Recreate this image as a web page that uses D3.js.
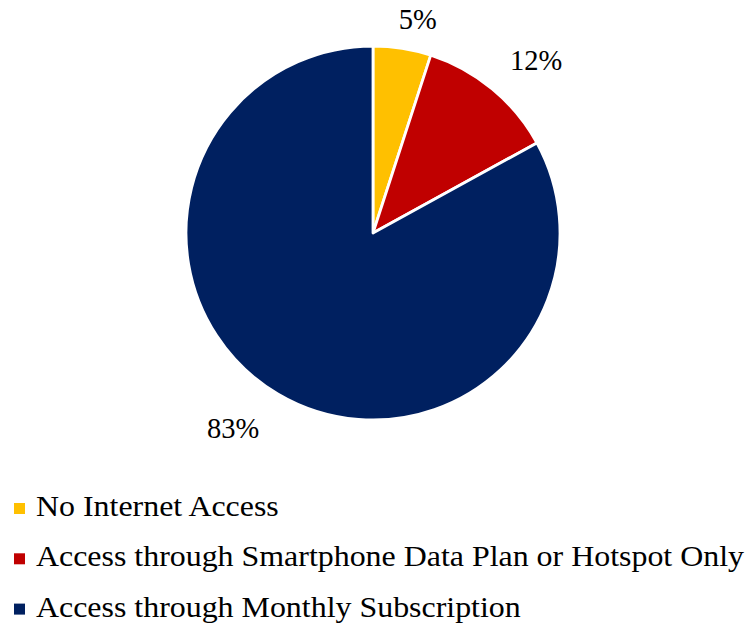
<!DOCTYPE html>
<html>
<head>
<meta charset="utf-8">
<script src="https://cdn.jsdelivr.net/npm/d3@7"></script>
<style>
    body { margin: 0; background: #fff; }
    text { font-family: "Liberation Serif", "Times New Roman", serif; fill: #000; }
</style>
</head>
<body>
<svg id="chart" width="746" height="628" viewBox="0 0 746 628"></svg>
<script>
// data
const categories = ["No Internet Access", "Access through Smartphone Data Plan or Hotspot Only", "Access through Monthly Subscription"];
const shares = [5, 12, 83];
const colors = ["#FFC000", "#C00000", "#002060"];

const svg = d3.select("#chart");
const cx = 373, cy = 233, radius = 187;

const pie = d3.pie().sort(null).value(d => d);
const arcs = pie(shares);

const arc = d3.arc().innerRadius(0).outerRadius(radius);
const label_arc = d3.arc().innerRadius(radius + 28).outerRadius(radius + 28);

// pie container
const chart_container = svg.append("g")
    .attr("transform", "translate(" + cx + "," + cy + ")");

chart_container.selectAll("path")
    .data(arcs)
    .enter().append("path")
    .attr("d", arc)
    .attr("fill", (d, i) => colors[i])
    .attr("stroke", "#fff")
    .attr("stroke-width", 2.8)
    .attr("stroke-linejoin", "round");

// labels sit a bit off the mid angle, like the excel "best fit"
const nudge = [[11, -1.5], [26, -7], [-30.5, 10]];
chart_container.selectAll("text.pct")
    .data(arcs)
    .enter().append("text")
    .attr("class", "pct")
    .attr("x", (d, i) => label_arc.centroid(d)[0] + nudge[i][0])
    .attr("y", (d, i) => label_arc.centroid(d)[1] + nudge[i][1])
    .attr("dy", "0.35em")
    .attr("text-anchor", "middle")
    .style("font-size", "28.5px")
    .text(d => d.data + "%");

// legend
const legend = svg.append("g").attr("transform", "translate(14,0)");
const rows = legend.selectAll("g")
    .data(categories)
    .enter().append("g")
    .attr("transform", (d, i) => "translate(0," + (516 + i * 50.3) + ")");

rows.append("rect")
    .attr("x", 0)
    .attr("y", -13)
    .attr("width", 11)
    .attr("height", 11)
    .attr("fill", (d, i) => colors[i]);

// the legend text in the picture is a touch wider than plain Times
rows.append("text")
    .attr("transform", "translate(22,0) scale(1.082,1)")
    .style("font-size", "29.5px")
    .text(d => d);
</script>
</body>
</html>
